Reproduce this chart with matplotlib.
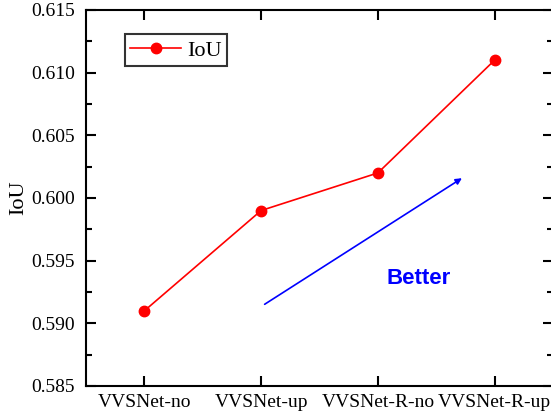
import matplotlib
matplotlib.use("Agg")
import matplotlib.pyplot as plt
from matplotlib.ticker import MultipleLocator

categories = ["VVSNet-no", "VVSNet-up", "VVSNet-R-no", "VVSNet-R-up"]
iou = [0.591, 0.599, 0.602, 0.611]
yticks = [0.585, 0.590, 0.595, 0.600, 0.605, 0.610, 0.615]

plt.rcParams['font.family'] = ['Liberation Serif', 'DejaVu Serif']

fig = plt.figure(figsize=(5.51, 4.17), dpi=100)
W, H = 551, 417
left, right, top, bottom = 86, 553, 10, 386
ax = fig.add_axes([left / W, 1 - bottom / H, (right - left) / W, (bottom - top) / H])

x = list(range(len(categories)))
ax.plot(x, iou, color='red', lw=1.2, marker='o', markersize=7.5, label='IoU')

ax.set_xlim(-0.5, 3.5)
ax.set_ylim(0.585, 0.615)
ax.set_xticks(x)
ax.set_xticklabels(categories, fontsize=14)
ax.set_yticks(yticks)
ax.set_yticklabels([f"{v:.3f}" for v in yticks], fontsize=14)
ax.yaxis.set_minor_locator(MultipleLocator(0.0025))
ax.set_ylabel("IoU", fontsize=16, labelpad=2)

for s in ax.spines.values():
    s.set_linewidth(1.5)
ax.tick_params(which='major', direction='in', length=7, width=1.5, top=True, right=True)
ax.tick_params(which='minor', direction='in', length=4, width=1.5, right=True)
ax.tick_params(axis='x', pad=6)
ax.tick_params(axis='y', pad=8)

ax.annotate("", xy=(2.74, 0.6017), xytext=(1.01, 0.5914),
            arrowprops=dict(arrowstyle='-|>', color='blue', lw=1.2, mutation_scale=9))
ax.text(2.35, 0.5936, "Better", color='blue', fontsize=16, fontweight='bold',
        family=['Liberation Sans', 'DejaVu Sans'], ha='center', va='center')

leg = ax.legend(loc='upper left', bbox_to_anchor=(0.083, 0.935), fontsize=16,
                frameon=True, fancybox=False, edgecolor='black', handlelength=2.3,
                borderpad=0.25, handletextpad=0.25, borderaxespad=0)
leg.get_frame().set_linewidth(1.5)

fig.savefig("out.png", dpi=100)
